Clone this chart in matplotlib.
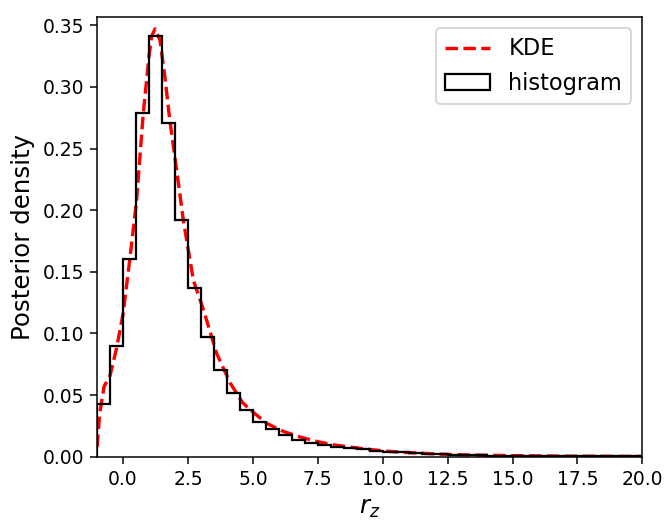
import numpy as np
import matplotlib
matplotlib.use('Agg')
import matplotlib.pyplot as plt

# histogram: bin edges and densities (bin width 0.5)
edges = np.arange(-1.0, 20.01, 0.5)
hist_vals = [0.043, 0.090, 0.160, 0.279, 0.341, 0.271, 0.192, 0.137, 0.097, 0.0705,
             0.052, 0.038, 0.028, 0.0227, 0.0178, 0.0138, 0.0110, 0.0092, 0.0080, 0.0070,
             0.0060, 0.0050, 0.0042, 0.0035, 0.0030, 0.0025, 0.0020, 0.0017, 0.0014, 0.0012,
             0.0010, 0.0009, 0.0008, 0.0007, 0.0006, 0.0005, 0.0005, 0.0004, 0.0004, 0.0003,
             0.0003, 0.0003]

# KDE curve
kde_x = [-1.0, -0.9, -0.73, -0.5, -0.25, 0.0, 0.26, 0.52, 0.78, 1.0, 1.1, 1.23, 1.42,
         1.6, 1.8, 2.13, 2.32, 2.71, 3.1, 3.6, 4.12, 4.6, 4.9, 5.54, 6.18, 6.82, 7.46,
         8.1, 8.75, 9.39, 10.03, 10.67, 11.45, 12.3, 13.0, 14.0, 15.0, 16.0, 17.0, 18.0,
         19.0, 20.0]
kde_y = [0.008, 0.035, 0.057, 0.066, 0.088, 0.116, 0.160, 0.208, 0.279, 0.325, 0.341, 0.347, 0.338,
         0.310, 0.273, 0.222, 0.192, 0.143, 0.119, 0.084, 0.060, 0.044, 0.038, 0.027, 0.0205, 0.016, 0.0124,
         0.0097, 0.0078, 0.0062, 0.0047, 0.0037, 0.0029, 0.0020, 0.0016, 0.0012, 0.0009, 0.0007, 0.0005, 0.0004,
         0.0003, 0.0003]

dpi = 135
fig, ax = plt.subplots(figsize=(665/dpi, 522/dpi), dpi=dpi)
fig.subplots_adjust(left=0.146, right=0.966, top=0.967, bottom=0.125)

ax.plot(kde_x, kde_y, 'r--', lw=1.8, label='KDE')
ax.hist(edges[:-1], bins=edges, weights=hist_vals, histtype='step', color='k', lw=1.2, label='histogram')

ax.set_xlim(-1, 20)
ax.set_ylim(0, 0.3565)
ax.set_xticks(np.arange(0, 20.1, 2.5))
ax.set_yticks(np.arange(0, 0.351, 0.05))
ax.tick_params(labelsize=10)
ax.set_xlabel('$r_z$', fontsize=13)
ax.set_ylabel('Posterior density', fontsize=13)
ax.legend(loc='upper right', fontsize=12)

fig.savefig('out.png', dpi=dpi)
